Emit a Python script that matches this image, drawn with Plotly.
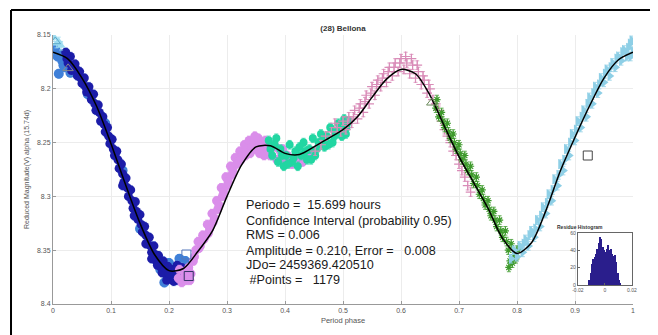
import plotly.graph_objects as go

# ---------------- data ----------------
fit_phase = [0.000, 0.025, 0.050, 0.075, 0.100, 0.125, 0.150, 0.175, 0.200, 0.225,
             0.250, 0.275, 0.300, 0.325, 0.350, 0.375, 0.400, 0.425, 0.450, 0.475,
             0.500, 0.525, 0.550, 0.575, 0.600, 0.625, 0.650, 0.675, 0.700, 0.725,
             0.750, 0.775, 0.800, 0.825, 0.850, 0.875, 0.900, 0.925, 0.950, 0.975, 1.000]
fit_mag = [8.166, 8.172, 8.190, 8.216, 8.251, 8.289, 8.325, 8.354, 8.369, 8.367,
           8.351, 8.332, 8.300, 8.271, 8.254, 8.253, 8.260, 8.261, 8.254, 8.246,
           8.238, 8.226, 8.208, 8.191, 8.182, 8.186, 8.206, 8.235, 8.263, 8.287,
           8.311, 8.339, 8.353, 8.343, 8.313, 8.276, 8.245, 8.216, 8.190, 8.173, 8.166]

steel_phase = [0.004, 0.008, 0.012, 0.016, 0.020, 0.030, 0.060, 0.090, 0.120, 0.150,
               0.175, 0.185, 0.192, 0.200, 0.212, 0.218, 0.224, 0.228, 0.010, 0.018]
steel_mag = [8.163, 8.170, 8.168, 8.174, 8.180, 8.185, 8.205, 8.232, 8.276, 8.330,
             8.355, 8.368, 8.380, 8.362, 8.378, 8.358, 8.372, 8.360, 8.186, 8.178]

navy_phase = [0.022, 0.026, 0.030, 0.034, 0.038, 0.042, 0.046, 0.050, 0.054, 0.058,
              0.062, 0.066, 0.070, 0.074, 0.078, 0.082, 0.086, 0.090, 0.094, 0.098,
              0.102, 0.106, 0.110, 0.114, 0.118, 0.122, 0.126, 0.130, 0.134, 0.138,
              0.142, 0.146, 0.150, 0.154, 0.158, 0.162, 0.166, 0.170, 0.174, 0.178,
              0.182, 0.186, 0.190, 0.194, 0.198, 0.202, 0.206, 0.210, 0.214, 0.218,
              0.222, 0.196, 0.188, 0.208,
              0.024, 0.032, 0.040, 0.048, 0.056, 0.064, 0.072, 0.080, 0.088, 0.096,
              0.104, 0.112, 0.120, 0.128, 0.136, 0.144, 0.152, 0.160, 0.168, 0.176,
              0.184, 0.192, 0.200, 0.212, 0.216, 0.180, 0.170, 0.160, 0.140, 0.120]
navy_mag = [8.166, 8.176, 8.170, 8.180, 8.177, 8.188, 8.184, 8.195, 8.190, 8.203,
            8.198, 8.210, 8.205, 8.220, 8.215, 8.230, 8.226, 8.240, 8.236, 8.251,
            8.247, 8.262, 8.258, 8.274, 8.270, 8.287, 8.283, 8.300, 8.294, 8.311,
            8.305, 8.321, 8.317, 8.333, 8.328, 8.344, 8.338, 8.352, 8.346, 8.360,
            8.355, 8.366, 8.360, 8.372, 8.365, 8.376, 8.368, 8.374, 8.364, 8.372,
            8.366, 8.378, 8.371, 8.379,
            8.172, 8.183, 8.182, 8.190, 8.198, 8.204, 8.214, 8.222, 8.233, 8.244,
            8.256, 8.266, 8.279, 8.292, 8.304, 8.314, 8.326, 8.336, 8.346, 8.354,
            8.362, 8.366, 8.372, 8.368, 8.378, 8.364, 8.358, 8.344, 8.318, 8.290]

cyan_phase = [0.002, 0.006, 0.010, 0.014]
cyan_mag = [8.152, 8.158, 8.156, 8.160]

violet_phase = [0.216, 0.222, 0.226, 0.230, 0.234, 0.238, 0.242, 0.246, 0.250, 0.254,
                0.258, 0.262, 0.266, 0.270, 0.274, 0.278, 0.282, 0.286, 0.290, 0.294,
                0.298, 0.302, 0.306, 0.310, 0.314, 0.318, 0.322, 0.326, 0.330, 0.334,
                0.338, 0.342, 0.346, 0.350, 0.354, 0.358, 0.362, 0.366, 0.370, 0.374,
                0.380, 0.386, 0.392, 0.398, 0.404, 0.412, 0.420, 0.430, 0.440, 0.450,
                0.218, 0.228, 0.236, 0.244, 0.252, 0.260, 0.268, 0.276, 0.284, 0.292,
                0.300, 0.308, 0.316, 0.324, 0.332, 0.340, 0.348, 0.356, 0.364, 0.372,
                0.384, 0.396, 0.408]
violet_mag = [8.376, 8.380, 8.370, 8.378, 8.366, 8.372, 8.360, 8.350, 8.342, 8.346,
              8.336, 8.338, 8.326, 8.330, 8.316, 8.320, 8.304, 8.308, 8.292, 8.296,
              8.282, 8.286, 8.272, 8.276, 8.264, 8.268, 8.258, 8.262, 8.252, 8.258,
              8.248, 8.255, 8.250, 8.256, 8.246, 8.252, 8.258, 8.248, 8.256, 8.262,
              8.252, 8.266, 8.258, 8.268, 8.262, 8.270, 8.264, 8.268, 8.262, 8.258,
              8.368, 8.374, 8.378, 8.356, 8.348, 8.340, 8.334, 8.324, 8.312, 8.300,
              8.290, 8.280, 8.270, 8.266, 8.262, 8.260, 8.244, 8.260, 8.262, 8.258,
              8.254, 8.256, 8.266]

teal_phase = [0.372, 0.378, 0.382, 0.388, 0.392, 0.398, 0.402, 0.408, 0.412, 0.418,
              0.422, 0.428, 0.432, 0.438, 0.442, 0.448, 0.452, 0.458, 0.462, 0.468,
              0.472, 0.478, 0.482, 0.488, 0.492, 0.498, 0.502, 0.506,
              0.375, 0.385, 0.395, 0.405, 0.415, 0.425, 0.435, 0.445, 0.455, 0.465,
              0.475, 0.485, 0.495, 0.505, 0.510]
teal_mag = [8.248, 8.262, 8.252, 8.268, 8.256, 8.272, 8.262, 8.252, 8.268, 8.258,
            8.272, 8.262, 8.250, 8.266, 8.256, 8.246, 8.262, 8.250, 8.242, 8.254,
            8.244, 8.236, 8.250, 8.240, 8.232, 8.244, 8.228, 8.236,
            8.256, 8.246, 8.262, 8.270, 8.264, 8.254, 8.258, 8.266, 8.256, 8.248,
            8.252, 8.244, 8.236, 8.242, 8.230]

pink_phase = [0.470, 0.480, 0.490, 0.500, 0.505, 0.510, 0.515, 0.520, 0.525, 0.530,
              0.535, 0.540, 0.545, 0.550, 0.555, 0.560, 0.565, 0.570, 0.575, 0.580,
              0.585, 0.590, 0.595, 0.600, 0.605, 0.610, 0.615, 0.620, 0.625, 0.630,
              0.635, 0.640, 0.645, 0.650, 0.660, 0.670, 0.680, 0.690, 0.700, 0.710,
              0.452, 0.462, 0.486, 0.496, 0.508, 0.518, 0.528, 0.538, 0.548, 0.558,
              0.568, 0.578, 0.588, 0.598, 0.608, 0.618, 0.628, 0.638, 0.648, 0.655,
              0.665, 0.675, 0.685, 0.695, 0.705, 0.715, 0.720]
pink_mag = [8.244, 8.240, 8.236, 8.230, 8.238, 8.226, 8.232, 8.220, 8.228, 8.214,
            8.222, 8.206, 8.214, 8.198, 8.206, 8.192, 8.198, 8.186, 8.194, 8.180,
            8.188, 8.176, 8.184, 8.172, 8.182, 8.176, 8.186, 8.178, 8.190, 8.184,
            8.196, 8.192, 8.204, 8.200, 8.214, 8.230, 8.244, 8.258, 8.270, 8.282,
            8.258, 8.252, 8.232, 8.240, 8.232, 8.226, 8.218, 8.212, 8.204, 8.196,
            8.190, 8.184, 8.180, 8.176, 8.170, 8.172, 8.178, 8.188, 8.196, 8.210,
            8.220, 8.238, 8.250, 8.262, 8.276, 8.290, 8.296]

green_phase = [0.660, 0.665, 0.670, 0.675, 0.680, 0.685, 0.690, 0.695, 0.700, 0.705,
               0.710, 0.715, 0.720, 0.725, 0.730, 0.735, 0.740, 0.745, 0.750, 0.755,
               0.760, 0.765, 0.770, 0.775, 0.780, 0.785, 0.790, 0.788, 0.795, 0.800,
               0.662, 0.672, 0.682, 0.692, 0.702, 0.712, 0.722, 0.732, 0.742, 0.752,
               0.762, 0.772, 0.782, 0.792, 0.798, 0.804, 0.786]
green_mag = [8.218, 8.226, 8.222, 8.236, 8.232, 8.246, 8.242, 8.256, 8.252, 8.266,
             8.262, 8.276, 8.272, 8.288, 8.282, 8.298, 8.294, 8.308, 8.304, 8.318,
             8.314, 8.328, 8.322, 8.338, 8.332, 8.350, 8.344, 8.360, 8.354, 8.350,
             8.210, 8.230, 8.240, 8.250, 8.260, 8.270, 8.280, 8.290, 8.302, 8.312,
             8.322, 8.332, 8.342, 8.362, 8.358, 8.348, 8.366]

sky_phase = [0.790, 0.795, 0.800, 0.805, 0.810, 0.815, 0.820, 0.825, 0.830, 0.835,
             0.840, 0.845, 0.850, 0.855, 0.860, 0.865, 0.870, 0.875, 0.880, 0.885,
             0.890, 0.895, 0.900, 0.905, 0.910, 0.915, 0.920, 0.925, 0.930, 0.935,
             0.940, 0.945, 0.950, 0.955, 0.960, 0.965, 0.970, 0.975, 0.980, 0.985,
             0.990, 0.995, 1.000,
             0.812, 0.822, 0.832, 0.842, 0.852, 0.862, 0.872, 0.882, 0.892, 0.902,
             0.912, 0.922, 0.932, 0.942, 0.952, 0.962, 0.972, 0.982, 0.992, 0.998, 0.996]
sky_mag = [8.358, 8.350, 8.356, 8.346, 8.352, 8.340, 8.346, 8.332, 8.338, 8.322,
           8.328, 8.310, 8.316, 8.298, 8.304, 8.284, 8.290, 8.270, 8.276, 8.256,
           8.262, 8.242, 8.248, 8.230, 8.236, 8.220, 8.226, 8.208, 8.214, 8.198,
           8.204, 8.190, 8.194, 8.182, 8.188, 8.176, 8.180, 8.170, 8.174, 8.164,
           8.170, 8.158, 8.165,
           8.344, 8.336, 8.330, 8.318, 8.306, 8.294, 8.280, 8.266, 8.250, 8.238,
           8.226, 8.214, 8.204, 8.196, 8.186, 8.180, 8.172, 8.166, 8.162, 8.155, 8.170]

start_phase = [0.004, 0.026, 0.230, 0.234, 0.653, 0.922]
start_mag = [8.156, 8.181, 8.354, 8.374, 8.213, 8.262]
start_symbol = ["triangle-up-open", "triangle-up-open", "square-open", "square-open",
                "triangle-up-open", "square-open"]
start_color = ["#5aa9c9", "#888888", "#5577bb", "#333366", "#6a8a5a", "#444444"]

mag_err = 0.004

hist_centers = [-0.0115, -0.0105, -0.0095, -0.0085, -0.0075, -0.0065, -0.0055, -0.0045,
                -0.0035, -0.0025, -0.0015, -0.0005, 0.0005, 0.0015, 0.0025, 0.0035,
                0.0045, 0.0055, 0.0065, 0.0075, 0.0085, 0.0095, 0.0105, 0.0115]
hist_counts = [6, 14, 24, 30, 32, 36, 42, 48, 55, 53, 44, 40, 38, 42, 46, 40,
               42, 36, 34, 35, 26, 14, 6, 2]

x_ticks = [0, 0.1, 0.2, 0.3, 0.4, 0.5, 0.6, 0.7, 0.8, 0.9, 1]
x_tick_labels = ["0", "0.1", "0.2", "0.3", "0.4", "0.5", "0.6", "0.7", "0.8", "0.9", "1"]
y_ticks = [8.15, 8.2, 8.25, 8.3, 8.35, 8.4]
y_tick_labels = ["8.15", "8.2", "8.25", "8.3", "8.35", "8.4"]

info_lines = ["Periodo =  15.699 hours",
              "Confidence Interval (probability 0.95)",
              "RMS = 0.006",
              "Amplitude = 0.210, Error =   0.008",
              "JDo= 2459369.420510",
              " #Points =   1179"]

# ---------------- figure ----------------
fig = go.Figure()


def add_series(px, py, color, symbol, size, line_w=0, err_color=None):
    fig.add_trace(go.Scatter(
        x=px, y=py, mode="markers",
        marker=dict(color=color, symbol=symbol, size=size,
                    line=dict(width=line_w, color=color)),
        error_y=dict(type="constant", value=mag_err, color=err_color or color,
                     thickness=0.8, width=2),
        showlegend=False, hoverinfo="skip"))


add_series(steel_phase, steel_mag, "#3f80d8", "circle", 10)
add_series(navy_phase, navy_mag, "#1c1ca8", "circle", 9, err_color="#6f8fe0")
add_series(cyan_phase, cyan_mag, "#9edcf0", "triangle-up", 8)
add_series(violet_phase, violet_mag, "#da8eea", "circle", 9)
add_series(teal_phase, teal_mag, "#22d6a2", "circle", 8)
add_series(pink_phase, pink_mag, "#d98cb8", "cross-thin", 7, line_w=1.2)
add_series(green_phase, green_mag, "#3e9a2c", "asterisk", 6, line_w=1.2)
add_series(sky_phase, sky_mag, "#8ecfe6", "triangle-right", 9)

fig.add_trace(go.Scatter(
    x=fit_phase, y=fit_mag, mode="lines",
    line=dict(color="black", width=1.5, shape="spline", smoothing=0.8),
    showlegend=False, hoverinfo="skip"))

fig.add_trace(go.Scatter(
    x=start_phase, y=start_mag, mode="markers",
    marker=dict(symbol=start_symbol, size=9, color=start_color,
                line=dict(width=1, color=start_color)),
    showlegend=False, hoverinfo="skip"))

fig.add_trace(go.Bar(
    x=hist_centers, y=hist_counts, width=0.001,
    marker=dict(color="#2a1e8c", line=dict(width=0)),
    xaxis="x2", yaxis="y2", showlegend=False, hoverinfo="skip"))

info_y = [8.308, 8.3225, 8.3355, 8.3505, 8.364, 8.378]
for txt, yy in zip(info_lines, info_y):
    fig.add_annotation(x=0.330, y=yy, xref="x", yref="y", xanchor="left",
                       yanchor="middle", showarrow=False,
                       text=txt.replace(" ", "\u00a0"),
                       font=dict(family="Liberation Sans, Arial", size=12.6, color="#1a1a1a"))

axis_font = dict(family="Liberation Sans, Arial", size=7, color="#555555")

# the page body has an 8px default margin, so the figure is 8px smaller
fig.update_layout(
    width=650, height=327,
    margin=dict(l=45, r=25, t=27, b=31),
    paper_bgcolor="white", plot_bgcolor="white",
    bargap=0,
    title=dict(text="<b>(28) Bellona</b>", x=0.5, xref="paper", xanchor="center",
               y=0.939, yref="container", yanchor="middle",
               font=dict(family="Liberation Sans, Arial", size=8, color="#333333")),
    xaxis=dict(range=[0, 1], tickvals=x_ticks, ticktext=x_tick_labels,
               showgrid=True, gridcolor="#ececec", gridwidth=1, zeroline=False,
               showline=True, linecolor="#999999", linewidth=1,
               ticks="inside", ticklen=3, tickcolor="#999999",
               tickfont=axis_font, automargin=False,
               title=dict(text="Period phase", font=dict(family="Liberation Sans, Arial",
                                                        size=7.5, color="#555555"),
                          standoff=4)),
    yaxis=dict(range=[8.4, 8.15], tickvals=y_ticks, ticktext=y_tick_labels,
               showgrid=True, gridcolor="#ececec", gridwidth=1, zeroline=False,
               showline=True, linecolor="#999999", linewidth=1,
               ticks="inside", ticklen=3, tickcolor="#999999",
               tickfont=axis_font, automargin=False,
               title=dict(text="Reduced Magnitude(V) alpha (15.74d)",
                          font=dict(family="Liberation Sans, Arial", size=7, color="#555555"),
                          standoff=6)),
    xaxis2=dict(domain=[0.905, 0.998], anchor="y2", range=[-0.02, 0.02],
                tickvals=[-0.02, 0, 0.02], ticktext=["-0.02", "0", "0.02"],
                showline=True, mirror=True, linecolor="#666666", linewidth=1,
                ticks="inside", ticklen=2, tickcolor="#666666", showgrid=False,
                zeroline=False, tickfont=dict(family="Liberation Sans, Arial", size=5,
                                              color="#555555")),
    yaxis2=dict(domain=[0.0706, 0.264], anchor="x2", range=[0, 60],
                tickvals=[0, 20, 40, 60], showline=True, mirror=True,
                linecolor="#666666", linewidth=1, ticks="inside", ticklen=2,
                tickcolor="#666666", showgrid=False, zeroline=False,
                tickfont=dict(family="Liberation Sans, Arial", size=5, color="#555555")),
)

fig.add_annotation(x=0.9515, y=0.266, xref="paper", yref="paper", yanchor="bottom",
                   showarrow=False, text="<b>Residue Histogram</b>",
                   font=dict(family="Liberation Sans, Arial", size=5, color="#333333"))

# figure frame (top and left border lines of the picture)
fig.add_shape(type="line", xref="paper", yref="paper", x0=-0.0724, x1=1.05,
              y0=1.093, y1=1.093, line=dict(color="black", width=2))
fig.add_shape(type="line", xref="paper", yref="paper", x0=-0.0724, x1=-0.0724,
              y0=1.093, y1=-0.12, line=dict(color="black", width=2))

fig.write_html("out.html")
